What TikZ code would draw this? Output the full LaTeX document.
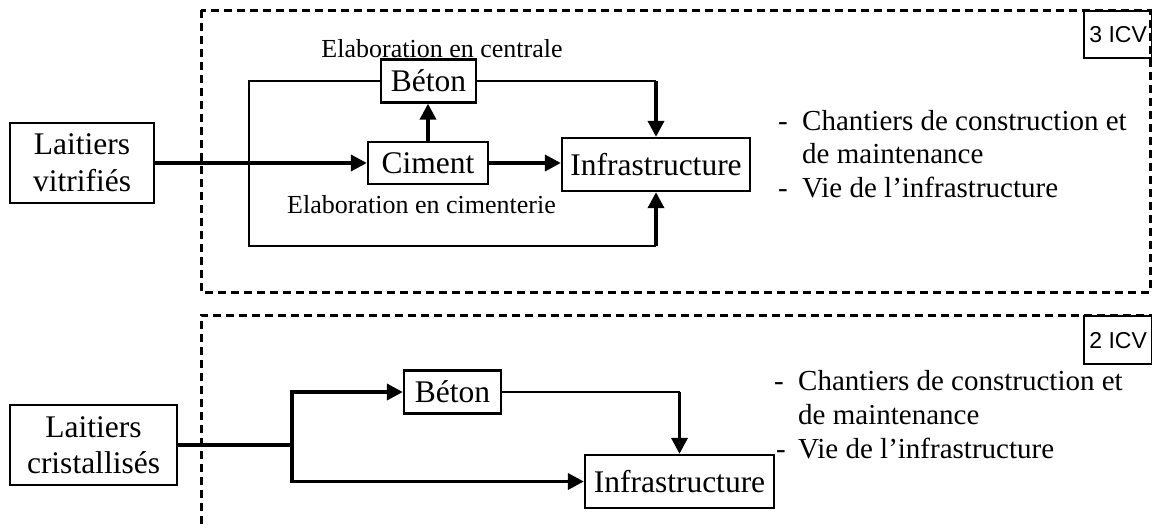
\documentclass[tikz,border=0pt]{standalone}
\usepackage{fontspec}
\setmainfont{Liberation Serif}
\newfontfamily\icvfont{Liberation Sans}
\usetikzlibrary{arrows.meta}
\begin{document}
\begin{tikzpicture}[x=1pt,y=-1pt,
  boxstyle/.style={draw, line width=2.3pt, inner sep=0pt, align=center, font=\fontsize{31.5}{37}\selectfont},
  thinline/.style={line width=2.2pt},
  thickline/.style={line width=3.6pt},
  thickarrow/.style={line width=3.6pt, -{Triangle[length=16pt,width=16pt]}},
  dashbox/.style={line width=3pt, dash pattern=on 8pt off 5pt},
  labeltext/.style={font=\fontsize{26}{30}\selectfont, inner sep=0pt, anchor=base},
  bullettext/.style={font=\fontsize{29}{33}\selectfont, inner sep=0pt, anchor=base west},
  icvbox/.style={draw, line width=2.3pt, inner sep=0pt, minimum width=68pt, minimum height=47pt, anchor=north west, font=\icvfont\fontsize{23}{27}\selectfont}
]
\useasboundingbox (0,0) rectangle (1152,528);

% dashed frames
\draw[dashbox] (201,10) rectangle (1150,292);
\draw[dashbox] (1170,315) -- (201,315) -- (201,545);

% ICV tags
\node[icvbox] (icv3) at (1083,10) {3 ICV};
\node[icvbox, minimum height=48pt] (icv2) at (1083,315) {2 ICV};

% ---------- top part ----------
\node[boxstyle, minimum width=144pt, minimum height=80pt] (lv) at (82,163) {Laitiers\\vitrifiés};
\node[boxstyle, minimum width=95pt, minimum height=43pt] (beton1) at (428.5,81) {Béton};
\node[boxstyle, minimum width=120pt, minimum height=42pt] (ciment) at (428,163) {Ciment};
\node[boxstyle, minimum width=188pt, minimum height=53pt] (infra1) at (656,164.5) {Infrastructure};

\node[labeltext] (labcentrale) at (442,57) {Elaboration en centrale};
\node[labeltext] (labcimenterie) at (421.5,213) {Elaboration en cimenterie};

\coordinate (j1) at (249,163);
\coordinate (bl) at (249,246);
\coordinate (tr) at (infra1.north |- beton1);
\coordinate (br) at (infra1.south |- bl);

\draw[thickarrow] (lv.east |- ciment) -- (ciment.west);
\draw[thickarrow] (ciment.north) -- (ciment.north |- beton1.south);
\draw[thickarrow] (ciment.east) -- (ciment.east -| infra1.west);
\draw[thinline] (j1) |- (beton1.west);
\draw[thinline] (beton1.east) -- (tr);
\draw[thickarrow] (tr) -- (infra1.north);
\draw[thinline] (j1) -- (bl) -- (br);
\draw[thickarrow] (br) -- (infra1.south);

\node[bullettext] (d1) at (778,130) {-};
\node[bullettext] (t1) at (802,130) {Chantiers de construction et};
\node[bullettext] (t2) at (802,163.5) {de maintenance};
\node[bullettext] (d2) at (778,197) {-};
\node[bullettext] (t3) at (802,197) {Vie de l’infrastructure};

% ---------- bottom part ----------
\node[boxstyle, minimum width=167pt, minimum height=80pt, font=\fontsize{31.5}{36}\selectfont] (lc) at (93.5,445) {Laitiers\\cristallisés};
\node[boxstyle, minimum width=97pt, minimum height=43pt] (beton2) at (452.5,392) {Béton};
\node[boxstyle, minimum width=189pt, minimum height=53pt] (infra2) at (679.5,481.5) {Infrastructure};

\coordinate (j2) at (292,445);
\coordinate (tr2) at (infra2.north |- beton2);

\draw[thickline] (lc.east) -- (j2);
\draw[thickarrow] (j2) |- (beton2.west);
\draw[thickarrow] (j2) |- (infra2.west);
\draw[thinline] (beton2.east) -- (tr2);
\draw[thickarrow] (tr2) -- (infra2.north);

\node[bullettext] (d3) at (774,390) {-};
\node[bullettext] (u1) at (798,390) {Chantiers de construction et};
\node[bullettext] (u2) at (798,424) {de maintenance};
\node[bullettext] (d4) at (776,458) {-};
\node[bullettext] (u3) at (798,458) {Vie de l’infrastructure};
\end{tikzpicture}
\end{document}
